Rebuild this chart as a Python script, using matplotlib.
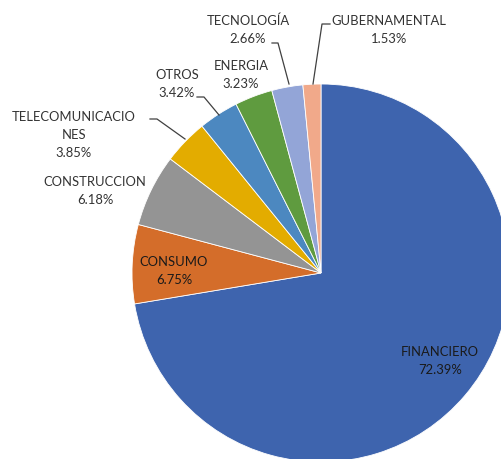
import matplotlib
matplotlib.use("Agg")
import matplotlib.pyplot as plt

# sector shares (%), clockwise from 12 o'clock
sectors = ["FINANCIERO", "CONSUMO", "CONSTRUCCION", "TELECOMUNICACIONES",
           "OTROS", "ENERGIA", "TECNOLOGÍA", "GUBERNAMENTAL"]
shares = [72.39, 6.75, 6.18, 3.85, 3.42, 3.23, 2.66, 1.53]
colors = ["#3E64AE", "#D46D2A", "#949494", "#E3AC00",
          "#4C88C0", "#5F9B3F", "#93A5D7", "#F1A98A"]

# label text as shown (telecom label wraps)
label_txt = ["FINANCIERO", "CONSUMO", "CONSTRUCCION", "TELECOMUNICACIO\nNES",
             "OTROS", "ENERGIA", "TECNOLOGÍA", "GUBERNAMENTAL"]

W, H = 502, 459
fig = plt.figure(figsize=(W / 100, H / 100), dpi=100)
ax = fig.add_axes([0, 0, 1, 1])
ax.set_xlim(0, W)
ax.set_ylim(H, 0)
ax.axis("off")

cx, cy, r = 321, 273, 189
# y axis is inverted, so counterclock=True draws clockwise on screen
ax.pie(shares, colors=colors, startangle=-90, counterclock=True,
       center=(cx, cy), radius=r,
       wedgeprops=dict(edgecolor="white", linewidth=0.6))
ax.set_xlim(0, W)
ax.set_ylim(H, 0)
ax.set_aspect("auto")

plt.rcParams["font.family"] = ["Lato", "DejaVu Sans"]
txt_kw = dict(ha="center", va="center", fontsize=9.4, linespacing=1.6)

# label positions in pixel coords
label_pos = [(440, 361), (174, 271), (95, 191), (74, 135),
             (177, 84), (241, 75), (248, 30), (389, 30)]
label_col = ["#1a1a1a", "#1a1a1a", "#333333", "#333333",
             "#333333", "#333333", "#333333", "#333333"]
for txt, val, (x, y), c in zip(label_txt, shares, label_pos, label_col):
    ax.text(x, y, f"{txt}\n{val:.2f}%", color=c, **txt_kw)

# leader lines
lk = dict(color="#404040", linewidth=0.9)
ax.plot([313, 322, 330], [84, 24, 24], **lk)
ax.plot([289, 278, 272], [84, 43, 43], **lk)
ax.plot([219, 204, 197], [115, 97, 97], **lk)
ax.plot([185, 157, 150], [139, 119, 119], **lk)

fig.savefig("out.png", dpi=100)
